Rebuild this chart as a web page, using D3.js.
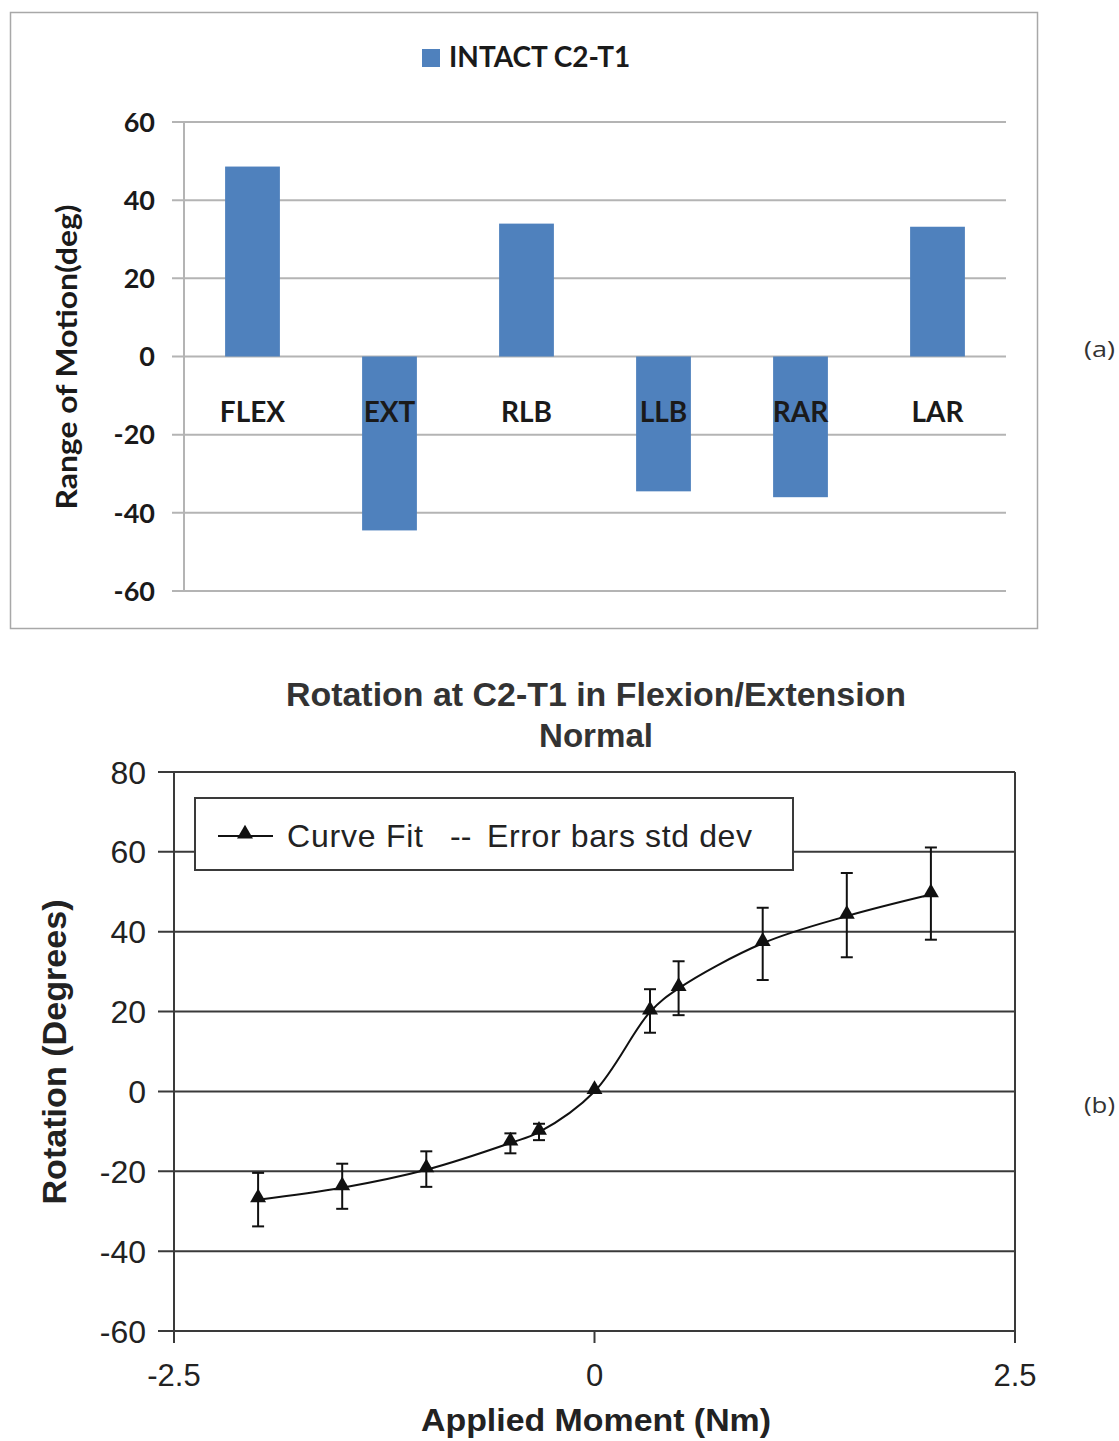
<!DOCTYPE html>
<html><head><meta charset="utf-8">
<script src="https://cdn.jsdelivr.net/npm/d3@7"></script>
<style>body{margin:0;background:#fff}svg{display:block}</style>
</head><body>
<svg id="c" width="1119" height="1441"></svg>
<script>
// ---- Chart (a) data ----
const categories = ["FLEX","EXT","RLB","LLB","RAR","LAR"];
const romValues = [48.6, -44.5, 34.0, -34.5, -36.0, 33.2];
const romTicks = [-60,-40,-20,0,20,40,60];
const legendA = "INTACT C2-T1";

// ---- Chart (b) data ----
const moment = [-2, -1.5, -1, -0.5, -0.33, 0, 0.33, 0.5, 1, 1.5, 2];
const rotation = [-27.1, -24.1, -19.6, -12.9, -10.2, 0, 19.9, 25.8, 37.1, 43.9, 49.3];
const errUpper = [-20.4, -18.1, -15.0, -10.5, -8.1, null, 25.6, 32.6, 46.0, 54.7, 61.1];
const errLower = [-33.8, -29.4, -23.9, -15.5, -12.2, null, 14.7, 19.1, 27.9, 33.6, 38.0];
const rotTicks = [-60,-40,-20,0,20,40,60,80];
const momentTicks = [-2.5, 0, 2.5];

const svg = d3.select("#c");

// ================= Chart (a) =================
const fA = "Lato, 'Open Sans', sans-serif";
svg.append("rect").attr("x",10.5).attr("y",12.5).attr("width",1027).attr("height",616)
  .attr("fill","none").attr("stroke","#a8a8a8").attr("stroke-width",1.5);

const xA = d3.scaleBand().domain(categories).range([184,1006]).paddingInner(0.6).paddingOuter(0.3);
const yA = d3.scaleLinear().domain([-60,60]).range([591,122]);

const gA = svg.append("g");
gA.selectAll("line.grid").data(romTicks).join("line")
  .attr("x1",172).attr("x2",1006).attr("y1",d=>yA(d)).attr("y2",d=>yA(d))
  .attr("stroke","#b4b4b4").attr("stroke-width",2);
gA.selectAll("rect.bar").data(categories).join("rect")
  .attr("x",d=>xA(d)).attr("width",xA.bandwidth())
  .attr("y",(d,i)=>yA(Math.max(0,romValues[i])))
  .attr("height",(d,i)=>Math.abs(yA(romValues[i])-yA(0)))
  .attr("fill","#4f81bd");
gA.append("line").attr("x1",184).attr("x2",184).attr("y1",122).attr("y2",591)
  .attr("stroke","#b4b4b4").attr("stroke-width",2);
gA.selectAll("text.yt").data(romTicks).join("text")
  .attr("x",155).attr("y",d=>yA(d)).attr("dy","0.36em").attr("text-anchor","end")
  .attr("font-family",fA).attr("font-weight","bold").attr("font-size",27).attr("fill","#1a1a1a")
  .text(d=>d);
gA.selectAll("text.cat").data(categories).join("text")
  .attr("x",d=>xA(d)+xA.bandwidth()/2).attr("y",yA(0)+65).attr("text-anchor","middle")
  .attr("font-family",fA).attr("font-weight","bold").attr("font-size",28).attr("fill","#1a1a1a")
  .text(d=>d);
gA.append("text").attr("transform","translate(77,357) rotate(-90)").attr("text-anchor","middle")
  .attr("font-family",fA).attr("font-weight","bold").attr("font-size",29).attr("fill","#1a1a1a")
  .attr("textLength",305).attr("lengthAdjust","spacingAndGlyphs")
  .text("Range of Motion(deg)");
gA.append("rect").attr("x",422).attr("y",49).attr("width",18).attr("height",18).attr("fill","#4f81bd");
gA.append("text").attr("x",449).attr("y",67).attr("font-family",fA).attr("font-weight","bold")
  .attr("font-size",28).attr("fill","#1a1a1a").text(legendA);
svg.append("text").attr("x",1084).attr("y",357).attr("font-family","'Open Sans', sans-serif")
  .attr("font-size",21).attr("fill","#333").attr("textLength",31).attr("lengthAdjust","spacingAndGlyphs").text("(a)");

// ================= Chart (b) =================
const fB = "'Liberation Sans', Arial, sans-serif";
const xB = d3.scaleLinear().domain([-2.5,2.5]).range([174,1015]);
const yB = d3.scaleLinear().domain([-60,80]).range([1331,772]);
const gB = svg.append("g");

gB.append("text").attr("x",596).attr("y",706).attr("text-anchor","middle")
  .attr("font-family",fB).attr("font-weight","bold").attr("font-size",33).attr("fill","#333")
  .attr("textLength",620).attr("lengthAdjust","spacingAndGlyphs")
  .text("Rotation at C2-T1 in Flexion/Extension");
gB.append("text").attr("x",596).attr("y",747).attr("text-anchor","middle")
  .attr("font-family",fB).attr("font-weight","bold").attr("font-size",33).attr("fill","#333")
  .attr("textLength",114).attr("lengthAdjust","spacingAndGlyphs")
  .text("Normal");

gB.selectAll("line.grid").data(rotTicks).join("line")
  .attr("x1",158).attr("x2",1015).attr("y1",d=>yB(d)).attr("y2",d=>yB(d))
  .attr("stroke","#3a3a3a").attr("stroke-width",2);
gB.append("line").attr("x1",174).attr("x2",174).attr("y1",yB(80)).attr("y2",yB(-60))
  .attr("stroke","#3a3a3a").attr("stroke-width",2);
gB.append("line").attr("x1",1015).attr("x2",1015).attr("y1",yB(80)).attr("y2",yB(-60))
  .attr("stroke","#3a3a3a").attr("stroke-width",2);
gB.selectAll("line.xt").data(momentTicks).join("line")
  .attr("x1",d=>xB(d)).attr("x2",d=>xB(d)).attr("y1",yB(-60)).attr("y2",yB(-60)+12)
  .attr("stroke","#3a3a3a").attr("stroke-width",2);
gB.selectAll("text.xtl").data(momentTicks).join("text")
  .attr("x",d=>xB(d)).attr("y",1386).attr("text-anchor","middle")
  .attr("font-family",fB).attr("font-size",31).attr("fill","#222").text(d=>d);
gB.selectAll("text.ytl").data(rotTicks).join("text")
  .attr("x",146).attr("y",d=>yB(d)).attr("dy","0.36em").attr("text-anchor","end")
  .attr("font-family",fB).attr("font-size",32).attr("fill","#222").text(d=>d);
gB.append("text").attr("x",596).attr("y",1431).attr("text-anchor","middle")
  .attr("font-family",fB).attr("font-weight","bold").attr("font-size",32).attr("fill","#222")
  .attr("textLength",350).attr("lengthAdjust","spacingAndGlyphs")
  .text("Applied Moment (Nm)");
gB.append("text").attr("transform","translate(66,1052) rotate(-90)").attr("text-anchor","middle")
  .attr("font-family",fB).attr("font-weight","bold").attr("font-size",33).attr("fill","#222")
  .attr("textLength",305).attr("lengthAdjust","spacingAndGlyphs")
  .text("Rotation (Degrees)");

gB.append("rect").attr("x",195).attr("y",798).attr("width",598).attr("height",72)
  .attr("fill","#fff").attr("stroke","#3a3a3a").attr("stroke-width",2);
gB.append("line").attr("x1",218).attr("x2",273).attr("y1",836).attr("y2",836)
  .attr("stroke","#111").attr("stroke-width",2);
const tri = d3.symbol().type(d3.symbolTriangle).size(110);
gB.append("path").attr("d",tri()).attr("transform","translate(245,834)").attr("fill","#111");
gB.append("text").attr("x",287).attr("y",847).attr("font-family",fB).attr("font-size",32)
  .attr("fill","#222").attr("textLength",136).text("Curve Fit");
gB.append("text").attr("x",450).attr("y",847).attr("font-family",fB).attr("font-size",32)
  .attr("fill","#222").text("--");
gB.append("text").attr("x",487).attr("y",847).attr("font-family",fB).attr("font-size",32)
  .attr("fill","#222").attr("textLength",265).text("Error bars std dev");

const pts = moment.map((m,i)=>({x:m,y:rotation[i],hi:errUpper[i],lo:errLower[i]}));
const line = d3.line().x(d=>xB(d.x)).y(d=>yB(d.y)).curve(d3.curveCatmullRom.alpha(0.5));
gB.append("path").datum(pts).attr("d",line).attr("fill","none").attr("stroke","#111").attr("stroke-width",2);
const eb = pts.filter(d=>d.hi!==null);
gB.selectAll("line.eb").data(eb).join("line")
  .attr("x1",d=>xB(d.x)).attr("x2",d=>xB(d.x)).attr("y1",d=>yB(d.hi)).attr("y2",d=>yB(d.lo))
  .attr("stroke","#111").attr("stroke-width",2);
gB.selectAll("line.ebh").data(eb).join("line")
  .attr("x1",d=>xB(d.x)-6).attr("x2",d=>xB(d.x)+6).attr("y1",d=>yB(d.hi)).attr("y2",d=>yB(d.hi))
  .attr("stroke","#111").attr("stroke-width",2);
gB.selectAll("line.ebl").data(eb).join("line")
  .attr("x1",d=>xB(d.x)-6).attr("x2",d=>xB(d.x)+6).attr("y1",d=>yB(d.lo)).attr("y2",d=>yB(d.lo))
  .attr("stroke","#111").attr("stroke-width",2);
gB.selectAll("path.pt").data(pts).join("path")
  .attr("d",tri()).attr("transform",d=>`translate(${xB(d.x)},${yB(d.y)-2})`).attr("fill","#111");

svg.append("text").attr("x",1084).attr("y",1113).attr("font-family","'Open Sans', sans-serif")
  .attr("font-size",21).attr("fill","#333").attr("textLength",31).attr("lengthAdjust","spacingAndGlyphs").text("(b)");
</script>
</body></html>
